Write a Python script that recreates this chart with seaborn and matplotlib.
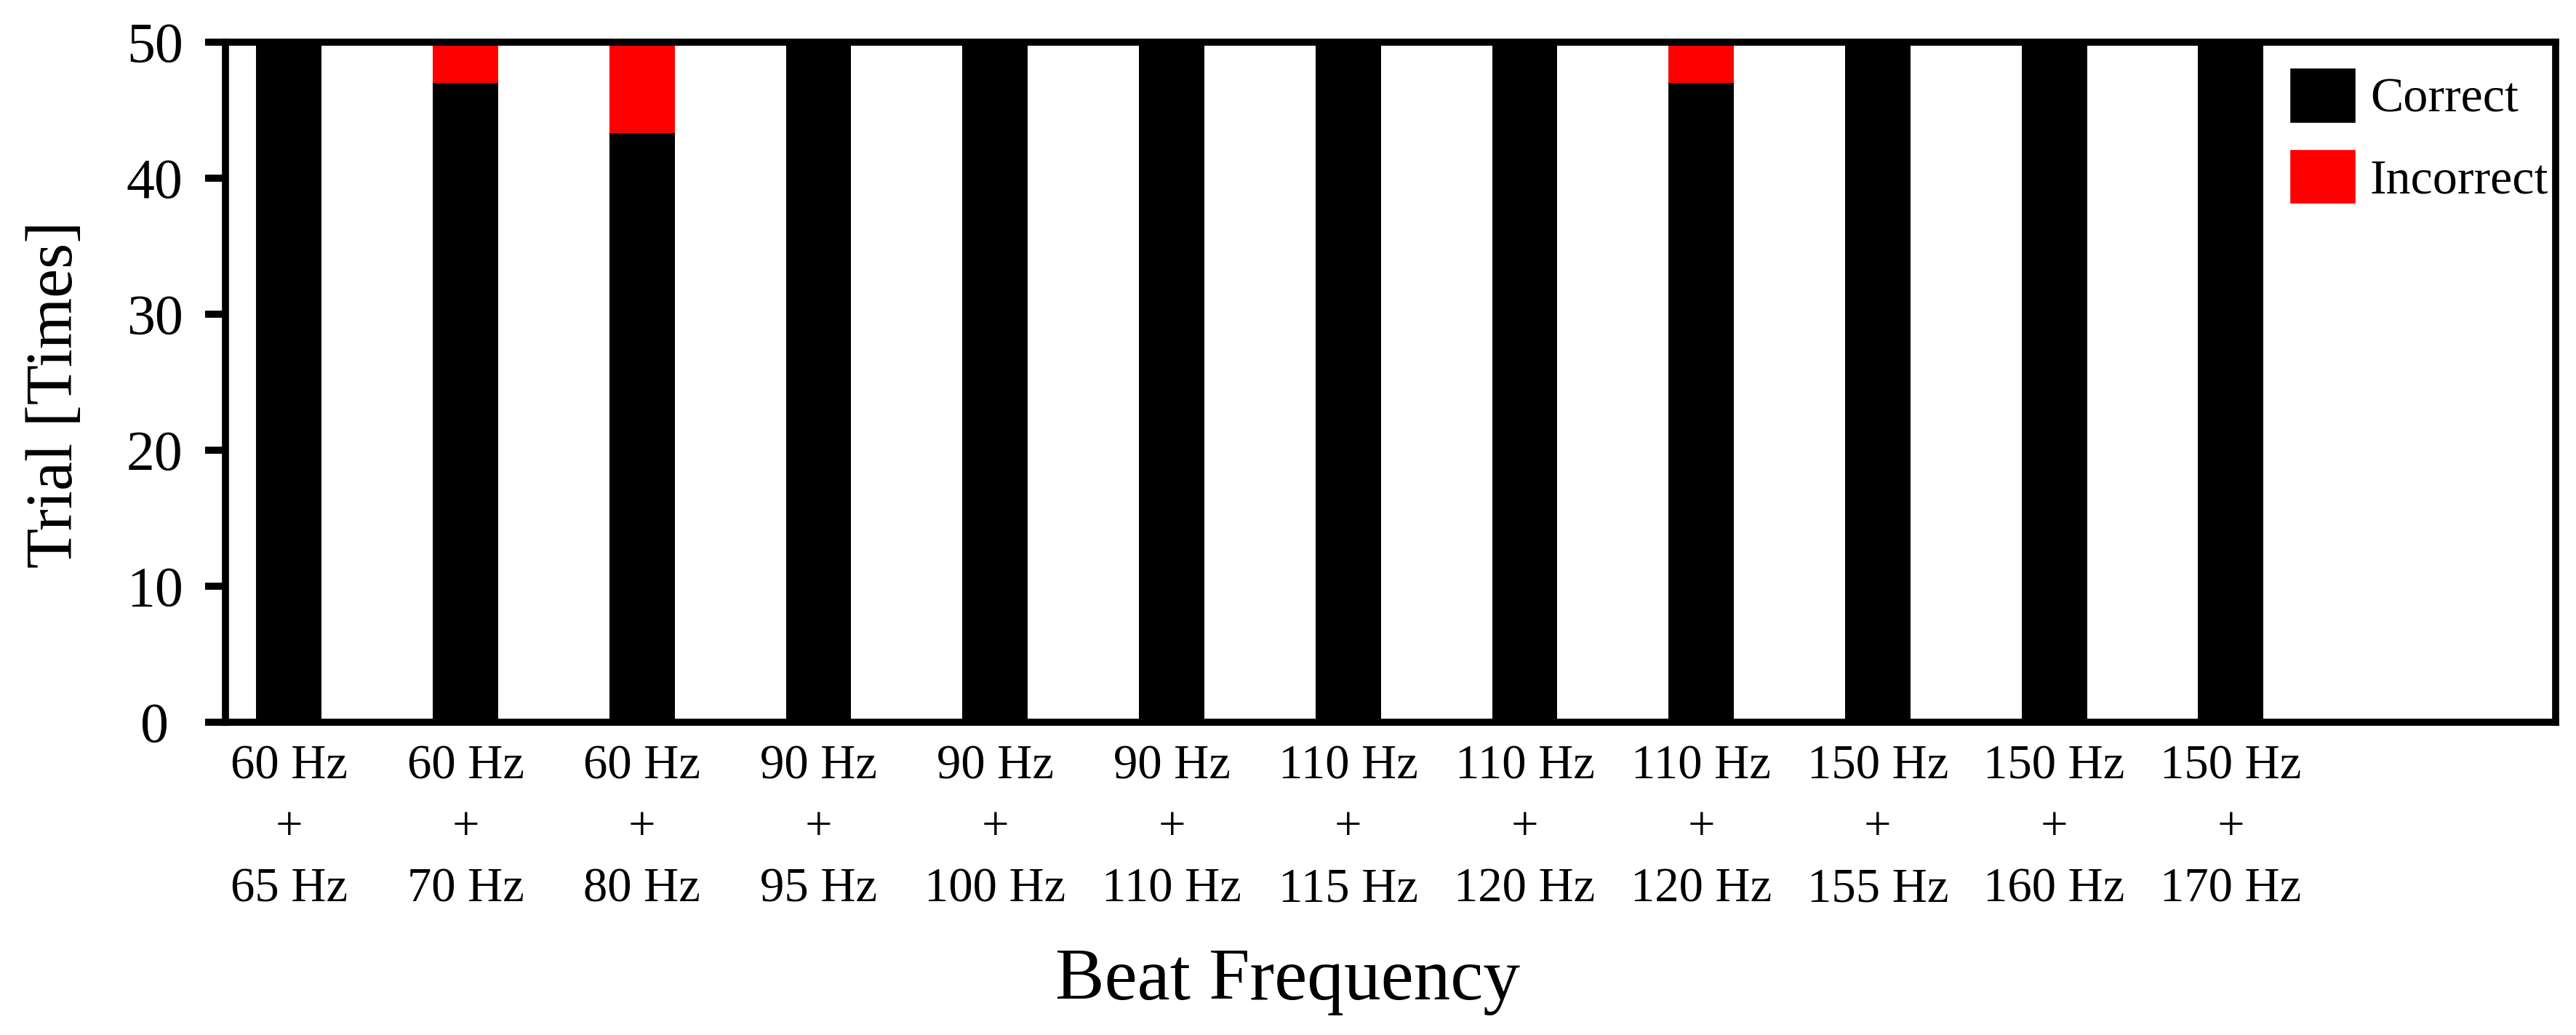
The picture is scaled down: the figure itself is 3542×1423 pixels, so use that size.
import matplotlib
matplotlib.use('Agg')
import matplotlib.pyplot as plt
from matplotlib.patches import Patch
import seaborn as sns
import pandas as pd

# two tones played together, correct / incorrect answers out of 50 trials
low_tone = ['60 Hz', '60 Hz', '60 Hz', '90 Hz', '90 Hz', '90 Hz',
            '110 Hz', '110 Hz', '110 Hz', '150 Hz', '150 Hz', '150 Hz']
high_tone = ['65 Hz', '70 Hz', '80 Hz', '95 Hz', '100 Hz', '110 Hz',
             '115 Hz', '120 Hz', '120 Hz', '155 Hz', '160 Hz', '170 Hz']
correct = [50, 47, 43.3, 50, 50, 50, 50, 50, 47, 50, 50, 50]
incorrect = [0, 3, 6.7, 0, 0, 0, 0, 0, 3, 0, 0, 0]

pairs = [f'{a}\n+\n{b}' for a, b in zip(low_tone, high_tone)]
# two bars share the same label, so key the bars by position
df = pd.DataFrame({'idx': range(len(pairs)), 'correct': correct,
                   'total': [c + i for c, i in zip(correct, incorrect)]})

sns.set_style('white')
plt.rcParams['font.family'] = ['Liberation Serif', 'DejaVu Serif']
plt.rcParams.update({'text.color': 'black', 'axes.labelcolor': 'black',
                     'xtick.color': 'black', 'ytick.color': 'black',
                     'axes.edgecolor': 'black'})

fig = plt.figure(figsize=(35.42, 14.23), dpi=100)
ax = fig.add_axes([310 / 3542, 1 - 993 / 1423, 3204 / 3542, 935 / 1423])

# stacked: red total underneath, black correct on top
sns.barplot(data=df, x='idx', y='total', color='#ff0000', saturation=1,
            width=0.37, errorbar=None, linewidth=0, ax=ax)
sns.barplot(data=df, x='idx', y='correct', color='black', saturation=1,
            width=0.37, errorbar=None, linewidth=0, ax=ax)

ax.set_xlim(-0.36, 12.84)
ax.set_ylim(0, 50)
ax.set_yticks([0, 10, 20, 30, 40, 50])
ax.set_xticks(range(len(pairs)))
ax.set_xticklabels(pairs, linespacing=1.5)

for side in ['left', 'right', 'top', 'bottom']:
    ax.spines[side].set_visible(True)
    ax.spines[side].set_color('black')
    ax.spines[side].set_linewidth(7)

ax.tick_params(axis='y', direction='out', length=20, width=7, pad=50,
               labelsize=56, left=True)
for lab in ax.get_yticklabels():
    lab.set_horizontalalignment('center')
ax.tick_params(axis='x', length=0, pad=22, labelsize=48)

ax.set_xlabel('Beat Frequency', fontsize=73, va='center')
ax.xaxis.set_label_coords(0.4557, -0.382)
ax.set_ylabel('Trial [Times]', fontsize=65, va='center')
ax.yaxis.set_label_coords(-0.0727, 0.482)

handles = [Patch(facecolor='black'), Patch(facecolor='#ff0000')]
ax.legend(handles, ['Correct', 'Incorrect'], loc='upper left',
          bbox_to_anchor=(3148 / 3542, 1 - 93 / 1423),
          bbox_transform=fig.transFigure, frameon=False, fontsize=49,
          borderpad=0, borderaxespad=0, handlelength=1.33,
          handleheight=1.33, handletextpad=0.3, labelspacing=0.53)

fig.savefig('out.png', dpi=100)
